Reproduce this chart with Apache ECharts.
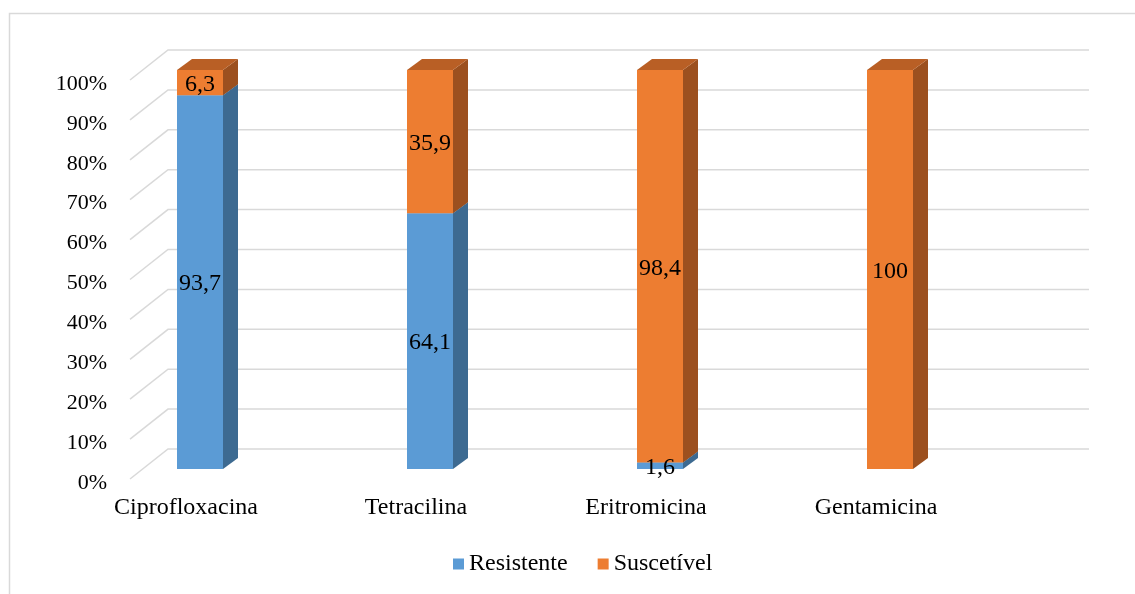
<!DOCTYPE html>
<html>
<head>
<meta charset="utf-8">
<script src="https://cdn.jsdelivr.net/npm/echarts@6/dist/echarts.min.js"></script>
<style>
  html, body { margin: 0; padding: 0; background: #fff; }
  #chart { width: 1135px; height: 594px; }
</style>
</head>
<body>
<div id="chart"></div>
<script>
// Antibiotic susceptibility profile (100% stacked, 3D-style columns)
const categories = ['Ciprofloxacina', 'Tetracilina', 'Eritromicina', 'Gentamicina'];
const resistente = [93.7, 64.1, 1.6, 0];
const suscetivel = [6.3, 35.9, 98.4, 100];
const yTicks = [0, 10, 20, 30, 40, 50, 60, 70, 80, 90, 100];
const seriesNames = ['Resistente', 'Suscetível'];

const FONT = '"Liberation Serif", "Times New Roman", serif';
const TICK_SIZE = 22;
const TEXT_SIZE = 24;

// 3D projection of the walls (depth offset of the back plane)
const WALL_DX = 38, WALL_DY = -30;
// bar placement inside the depth, and its own thickness
const BAR_SHIFT_X = 14, BAR_SHIFT_Y = -10;
const BAR_HALF = 23;
const BAR_DX = 15, BAR_DY = -11;

const palette = {
  Resistente: { front: '#5b9bd5', side: '#3d6a91', top: '#4a82b6' },
  'Suscetível': { front: '#ed7d31', side: '#9c501f', top: '#b95f25' }
};

function fmt(v) { return String(v).replace('.', ','); }

function stackData(values, bases) {
  return values.map((v, i) => [i, v, bases[i]]);
}

function makeBarRenderer(name) {
  const c = palette[name];
  return function (params, api) {
    const i = api.value(0);
    const v = api.value(1);
    const base = api.value(2);
    if (!(v > 0)) return null;
    const pb = api.coord([i, base]);
    const pt = api.coord([i, base + v]);
    const x0 = pb[0] + BAR_SHIFT_X - BAR_HALF;
    const x1 = pb[0] + BAR_SHIFT_X + BAR_HALF;
    const yb = pb[1] + BAR_SHIFT_Y;
    const yt = pt[1] + BAR_SHIFT_Y;
    const children = [
      { type: 'polygon', shape: { points: [[x1, yb], [x1 + BAR_DX, yb + BAR_DY], [x1 + BAR_DX, yt + BAR_DY], [x1, yt]] },
        style: { fill: c.side } },
      { type: 'polygon', shape: { points: [[x0, yt], [x1, yt], [x1 + BAR_DX, yt + BAR_DY], [x0 + BAR_DX, yt + BAR_DY]] },
        style: { fill: c.top } },
      { type: 'rect', shape: { x: x0, y: yt, width: x1 - x0, height: yb - yt },
        style: { fill: c.front } },
      { type: 'text', z2: 100,
        style: { text: fmt(v), x: (x0 + x1) / 2, y: (yb + yt) / 2 + 2, align: 'center', verticalAlign: 'middle',
                 fill: '#000', font: TEXT_SIZE + 'px ' + FONT } }
    ];
    return { type: 'group', children: children };
  };
}

const zeros = categories.map(() => 0);

const chart = echarts.init(document.getElementById('chart'), null, { renderer: 'canvas' });
chart.setOption({
  backgroundColor: '#fff',
  animation: false,
  graphic: [{
    type: 'rect', z: -10, silent: true,
    shape: { x: 9.5, y: 13.5, width: 1300, height: 700 },
    style: { fill: 'none', stroke: '#d9d9d9', lineWidth: 1.5 }
  }],
  legend: {
    data: seriesNames,
    left: 453, top: 552, padding: 0,
    icon: 'rect', itemWidth: 11, itemHeight: 11, itemGap: 30,
    textStyle: { fontFamily: FONT, fontSize: TEXT_SIZE, color: '#000' }
  },
  grid: [
    { left: 71, right: 144, top: 80, bottom: 115 },   // column front plane
    { left: 130, right: 84, top: 80, bottom: 115 },   // wall / floor frame
    { left: 130, right: 84, top: 84, bottom: 111 }    // percentage labels
  ],
  xAxis: [
    { type: 'category', gridIndex: 0, data: categories,
      axisLine: { show: false }, axisTick: { show: false }, splitLine: { show: false },
      axisLabel: { margin: 17, fontFamily: FONT, fontSize: TEXT_SIZE, color: '#000' } },
    { type: 'value', gridIndex: 1, min: 0, max: 1, show: false },
    { type: 'value', gridIndex: 2, min: 0, max: 1, show: false }
  ],
  yAxis: [
    { type: 'value', gridIndex: 0, min: 0, max: 100, interval: 10, show: false },
    { type: 'value', gridIndex: 1, min: 0, max: 100, interval: 10, show: false },
    { type: 'value', gridIndex: 2, min: 0, max: 100, interval: 10,
      axisLine: { show: false }, axisTick: { show: false }, splitLine: { show: false },
      axisLabel: { margin: 23, formatter: '{value}%',
                   fontFamily: FONT, fontSize: TICK_SIZE, color: '#000' } }
  ],
  series: [
    {
      // back-wall gridlines with their floor diagonals
      type: 'custom', name: 'grade', xAxisIndex: 1, yAxisIndex: 1, z: 1, silent: true,
      data: yTicks.map(t => [t]),
      encode: { y: 0 },
      renderItem: function (params, api) {
        const t = api.value(0);
        const a = api.coord([0, t]);
        const b = api.coord([1, t]);
        return {
          type: 'polyline',
          shape: { points: [[a[0], a[1]], [a[0] + WALL_DX, a[1] + WALL_DY], [b[0] + WALL_DX, b[1] + WALL_DY]] },
          style: { stroke: '#d9d9d9', lineWidth: 1.5, fill: null }
        };
      }
    },
    {
      type: 'custom', name: 'Resistente', xAxisIndex: 0, yAxisIndex: 0, z: 3,
      itemStyle: { color: palette.Resistente.front },
      data: stackData(resistente, zeros),
      encode: { x: 0, y: 1 },
      renderItem: makeBarRenderer('Resistente')
    },
    {
      type: 'custom', name: 'Suscetível', xAxisIndex: 0, yAxisIndex: 0, z: 3,
      itemStyle: { color: palette['Suscetível'].front },
      data: stackData(suscetivel, resistente),
      encode: { x: 0, y: 1 },
      renderItem: makeBarRenderer('Suscetível')
    }
  ]
});
</script>
</body>
</html>
